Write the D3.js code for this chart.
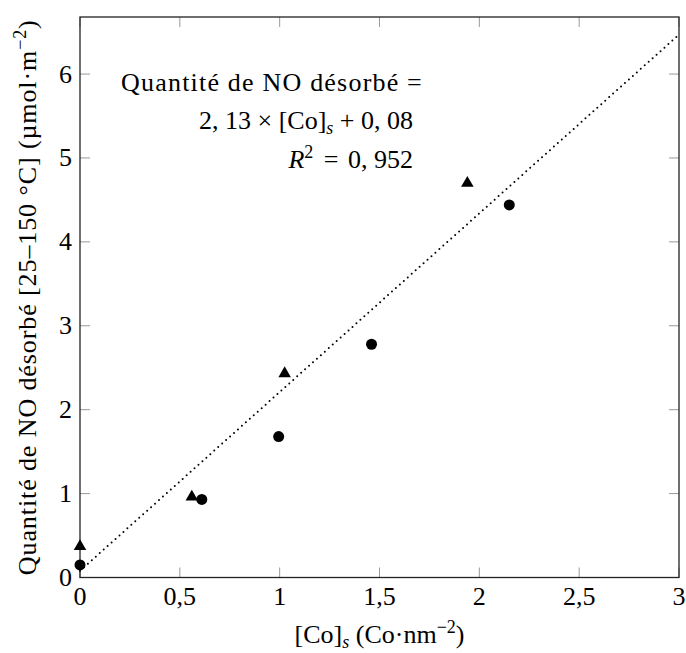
<!DOCTYPE html>
<html><head><meta charset="utf-8">
<script src="https://cdn.jsdelivr.net/npm/d3@7"></script>
<style>body{margin:0;background:#fff}svg{display:block}text{font-family:"Liberation Serif","DejaVu Serif",serif;fill:#000}</style>
</head><body>
<script>
const circleX = [0, 0.61, 0.995, 1.46, 2.15];
const circleY = [0.15, 0.93, 1.68, 2.78, 4.44];
const triX = [0, 0.56, 1.025, 1.94];
const triY = [0.37, 0.96, 2.43, 4.70];
const fitSlope = 2.13, fitIntercept = 0.08;
const xTicks = [0, 0.5, 1, 1.5, 2, 2.5, 3];
const xTickLabels = ["0", "0,5", "1", "1,5", "2", "2,5", "3"];
const yTicks = [0, 1, 2, 3, 4, 5, 6];

const W = 686, H = 653;
const m = {l: 80, r: 7, t: 17, b: 75.5};
const svg = d3.select("body").append("svg").attr("width", W).attr("height", H);
const x = d3.scaleLinear().domain([0, 3]).range([m.l, W - m.r]);
const y = d3.scaleLinear().domain([0, 6.68]).range([H - m.b, m.t]);
const fs = 26, fsS = 18;

// ticks (grey, inward, mirrored)
const tl = 10;
const tg = svg.append("g").attr("stroke", "#999").attr("stroke-width", 1);
xTicks.forEach(v => {
  tg.append("line").attr("x1", x(v)).attr("x2", x(v)).attr("y1", y(0)).attr("y2", y(0) - tl);
  tg.append("line").attr("x1", x(v)).attr("x2", x(v)).attr("y1", m.t).attr("y2", m.t + tl);
});
yTicks.forEach(v => {
  tg.append("line").attr("y1", y(v)).attr("y2", y(v)).attr("x1", x(0)).attr("x2", x(0) + tl);
  tg.append("line").attr("y1", y(v)).attr("y2", y(v)).attr("x1", x(3)).attr("x2", x(3) - tl);
});
// frame
svg.append("rect").attr("x", x(0)).attr("y", m.t).attr("width", x(3) - x(0)).attr("height", y(0) - m.t)
  .attr("fill", "none").attr("stroke", "#222").attr("stroke-width", 1.3);

// tick labels
xTicks.forEach((v, i) => {
  svg.append("text").attr("x", x(v)).attr("y", 605).attr("text-anchor", "middle")
    .attr("font-size", fs).text(xTickLabels[i]);
});
yTicks.forEach(v => {
  svg.append("text").attr("x", 72).attr("y", y(v) + 8.5).attr("text-anchor", "end")
    .attr("font-size", fs).text(v);
});

// fit line
const line = d3.line().x(d => x(d)).y(d => y(fitSlope * d + fitIntercept));
svg.append("path").datum([0, 3]).attr("d", line).attr("fill", "none").attr("stroke", "#000")
  .attr("stroke-width", 2).attr("stroke-linecap", "round").attr("stroke-dasharray", "0 5.3");

// markers
svg.append("g").selectAll("circle").data(circleX).join("circle")
  .attr("cx", d => x(d)).attr("cy", (d, i) => y(circleY[i])).attr("r", 5.5).attr("fill", "#000");
const tri = d3.symbol().type(d3.symbolTriangle).size(68);
svg.append("g").selectAll("path").data(triX).join("path")
  .attr("d", tri).attr("transform", (d, i) => `translate(${x(d)},${y(triY[i])})`).attr("fill", "#000");

// annotation
const a1 = svg.append("text").attr("x", 423).attr("y", 91).attr("text-anchor", "end")
  .attr("font-size", fs).attr("letter-spacing", 1.2);
a1.text("Quantité de NO désorbé =");
const a2 = svg.append("text").attr("x", 413).attr("y", 129).attr("text-anchor", "end").attr("font-size", fs);
a2.append("tspan").text("2, 13 × [Co]");
a2.append("tspan").attr("font-style", "italic").attr("font-size", fsS).attr("dy", 5).text("s");
a2.append("tspan").attr("dy", -5).text(" + 0, 08");
const a3 = svg.append("text").attr("x", 413).attr("y", 168).attr("text-anchor", "end").attr("font-size", fs);
a3.append("tspan").attr("font-style", "italic").text("R");
a3.append("tspan").attr("font-size", fsS).attr("dy", -10).text("2");
a3.append("tspan").attr("dy", 10).attr("dx", 4).text(" = ");
a3.append("tspan").attr("dx", 3).text("0, 952");

// x axis label
const xl = svg.append("text").attr("x", x(1.5)).attr("y", 643).attr("text-anchor", "middle").attr("font-size", fs);
xl.append("tspan").text("[Co]");
xl.append("tspan").attr("font-style", "italic").attr("font-size", fsS).attr("dy", 5).text("s");
xl.append("tspan").attr("dy", -5).text(" (Co·nm");
xl.append("tspan").attr("font-size", fsS).attr("dy", -10).text("−2");
xl.append("tspan").attr("dy", 10).text(")");

// y axis label
const yl = svg.append("text").attr("transform", `translate(36,${(m.t + y(0)) / 2}) rotate(-90)`)
  .attr("text-anchor", "middle").attr("font-size", fs).attr("letter-spacing", 0.9);
yl.append("tspan").text("Quantité de NO désorbé [25–150 °C] (µmol·m");
yl.append("tspan").attr("font-size", fsS).attr("dy", -10).text("−2");
yl.append("tspan").attr("dy", 10).text(")");
</script>
</body></html>
